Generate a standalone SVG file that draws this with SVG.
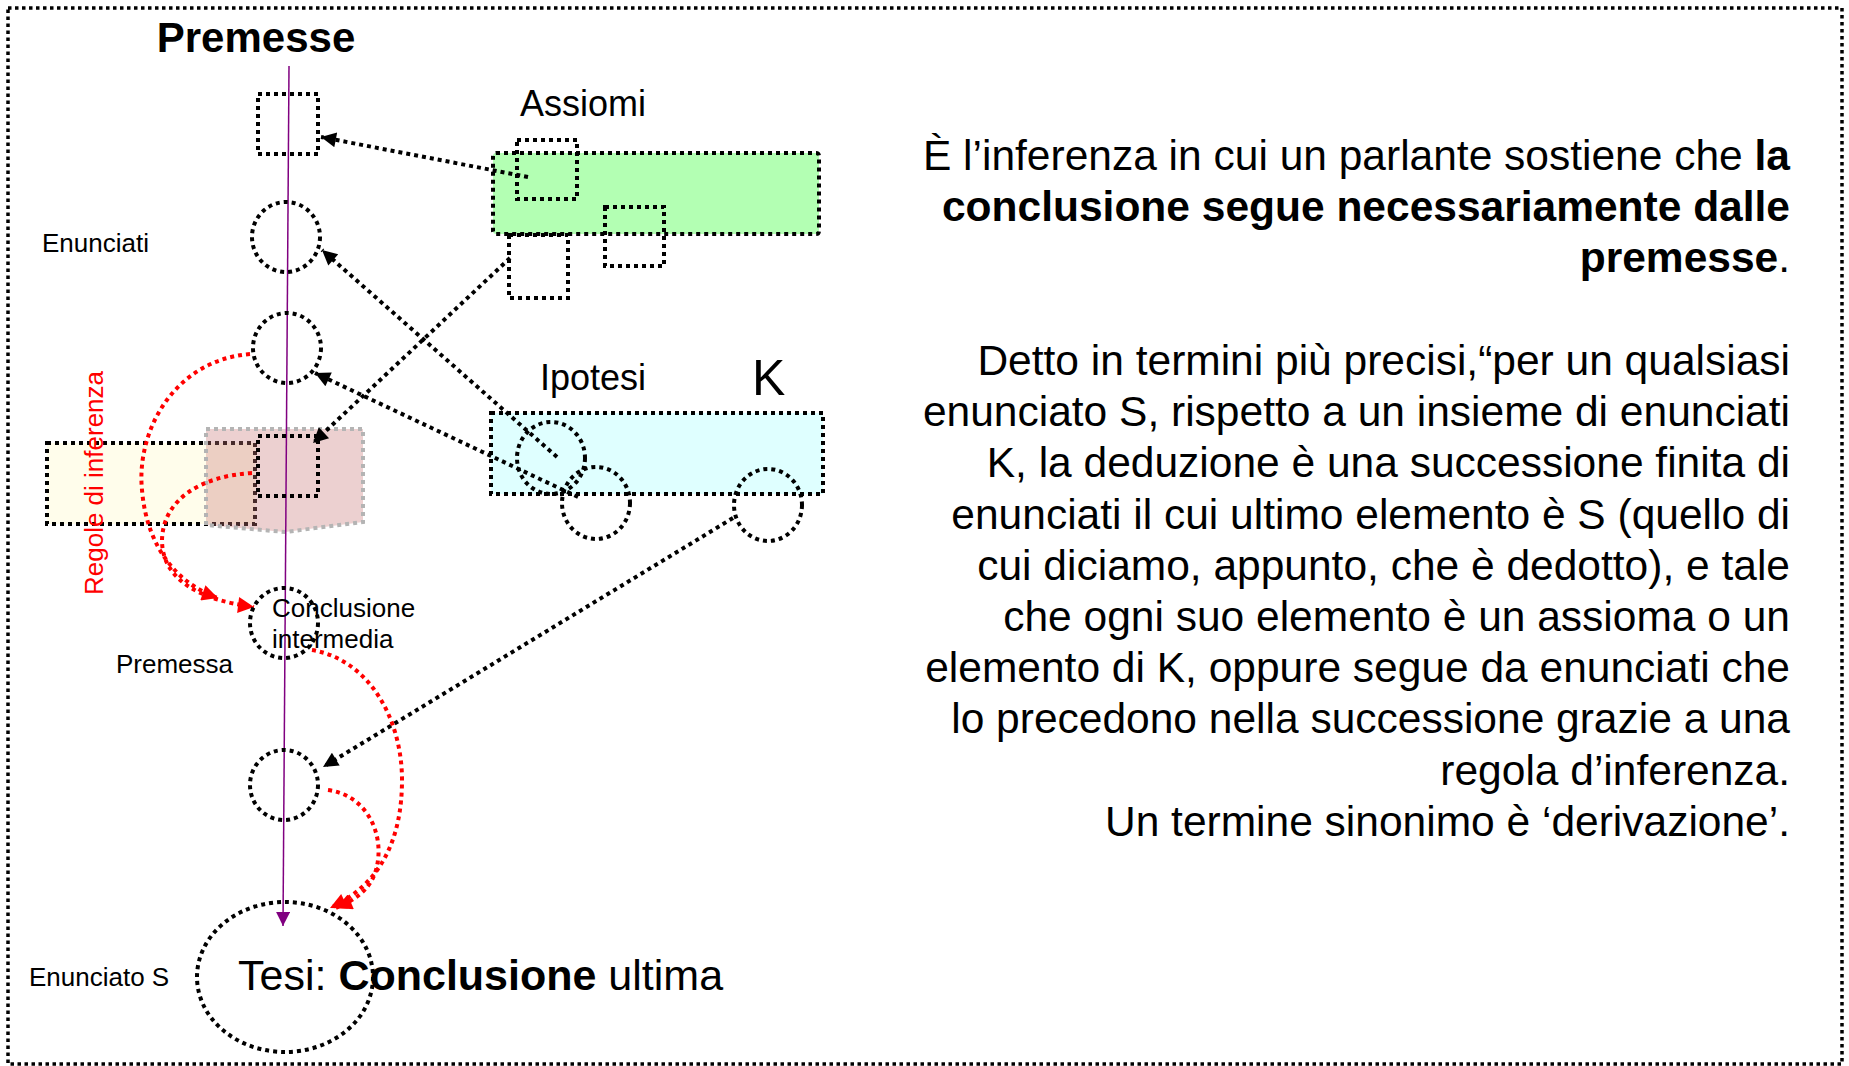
<svg xmlns="http://www.w3.org/2000/svg" width="1849" height="1066" viewBox="0 0 1849 1066">
<defs>
<style>
.dot{fill:none;stroke:#000;stroke-width:4;stroke-dasharray:4 4}
.red{fill:none;stroke:#ff0000;stroke-width:4;stroke-dasharray:4 4}
.t{font-family:"Liberation Sans",Arial,sans-serif;fill:#000}
.lbl{font-size:26px}
.big{font-size:42.5px}
.b{font-weight:bold}
</style>
<marker id="ab" viewBox="0 0 10 10" refX="10" refY="5" markerWidth="18" markerHeight="15" markerUnits="userSpaceOnUse" orient="auto"><path d="M0,0 L10,5 L0,10 z" fill="#000"/></marker>
<marker id="ar" viewBox="0 0 10 10" refX="10" refY="5" markerWidth="18" markerHeight="16" markerUnits="userSpaceOnUse" orient="auto"><path d="M0,0 L10,5 L0,10 z" fill="#ff0000"/></marker>
<marker id="ap" viewBox="0 0 10 10" refX="10" refY="5" markerWidth="15" markerHeight="14" markerUnits="userSpaceOnUse" orient="auto"><path d="M0,0 L10,5 L0,10 z" fill="#800080"/></marker>
</defs>
<rect width="1849" height="1066" fill="#fff"/>
<rect x="8" y="8" width="1834" height="1056" fill="none" stroke="#000" stroke-width="3.5" stroke-dasharray="3.5 3.5"/>

<g id="regole-box">
<rect x="47" y="443" width="208" height="81" class="dot" style="fill:#fffdeb"/>
</g>
<g id="pink-box">
<polygon points="206,429 363,429 363,522 285,532 206,525" style="fill:rgb(200,120,120);fill-opacity:0.35" stroke="#b4b4b4" stroke-width="4" stroke-dasharray="4 4"/>
</g>
<g id="assiomi-box">
<rect x="493" y="153" width="326" height="81" rx="3" class="dot" style="fill:#b3ffb3"/>
</g>
<g id="ipotesi-box">
<rect x="491" y="413" width="332" height="81" class="dot" style="fill:#dfffff"/>
</g>

<g id="connectors">
<line x1="289" y1="66" x2="283" y2="926" stroke="#800080" stroke-width="1.5" marker-end="url(#ap)"/>
<line x1="528" y1="177" x2="321" y2="137" class="dot" marker-end="url(#ab)"/>
<line x1="557" y1="457" x2="322" y2="250" class="dot" marker-end="url(#ab)"/>
<line x1="578" y1="497" x2="315" y2="373" class="dot" marker-end="url(#ab)"/>
<line x1="510" y1="258" x2="313" y2="443" class="dot" marker-end="url(#ab)"/>
<line x1="733" y1="518" x2="323" y2="767" class="dot" marker-end="url(#ab)"/>
<path d="M250 354 C175 360 136 430 142 490 C147 550 180 585 218 598" class="red" marker-end="url(#ar)"/>
<path d="M252 473 C200 476 163 500 162 540 C162 580 200 600 254 607" class="red" marker-end="url(#ar)"/>
<path d="M312 650 C370 660 402 720 402 780 C402 840 380 885 330 908" class="red" marker-end="url(#ar)"/>
<path d="M328 790 C365 795 382 830 378 860 C375 885 360 898 336 908" class="red" marker-end="url(#ar)"/>
</g>

<g id="premesse-label"><text class="t b" x="256" y="52" font-size="42" text-anchor="middle">Premesse</text></g>
<g id="square-top"><rect x="258" y="94" width="60" height="60" class="dot"/></g>
<g id="enunciato-1"><ellipse cx="286" cy="237" rx="34" ry="35" class="dot"/></g>
<g id="enunciato-2"><ellipse cx="287" cy="348" rx="34" ry="35" class="dot"/></g>
<g id="square-inner"><rect x="258" y="436" width="60" height="60" class="dot"/></g>
<g id="conclusione-intermedia"><ellipse cx="284" cy="623" rx="34" ry="35" class="dot"/>
<text class="t lbl" x="272" y="617">Conclusione</text>
<text class="t lbl" x="272" y="648">intermedia</text></g>
<g id="enunciato-4"><ellipse cx="284" cy="785" rx="34" ry="35" class="dot"/></g>
<g id="tesi"><ellipse cx="285" cy="977" rx="88" ry="75" class="dot"/>
<text class="t" x="238" y="990" font-size="43">Tesi: <tspan class="b">Conclusione</tspan> ultima</text></g>

<g id="assioma-1"><rect x="517" y="140" width="60" height="59" class="dot"/></g>
<g id="assioma-2"><rect x="605" y="207" width="59" height="59" class="dot"/></g>
<g id="assioma-3"><rect x="509" y="235" width="59" height="63" class="dot"/></g>
<g id="ipotesi-1"><ellipse cx="551" cy="458" rx="34" ry="36" class="dot"/></g>
<g id="ipotesi-2"><ellipse cx="596" cy="503" rx="34" ry="36" class="dot"/></g>
<g id="ipotesi-3"><ellipse cx="768" cy="505" rx="34" ry="36" class="dot"/></g>

<g id="labels">
<text class="t" x="520" y="116" font-size="36">Assiomi</text>
<text class="t" x="540" y="390" font-size="36">Ipotesi</text>
<text class="t" x="752" y="395" font-size="50">K</text>
<text class="t lbl" x="42" y="252">Enunciati</text>
<text class="t lbl" x="116" y="673">Premessa</text>
<text class="t lbl" x="29" y="986">Enunciato S</text>
<text class="t lbl" transform="translate(103,595) rotate(-90)" style="fill:#ff0000">Regole di inferenza</text>
</g>

<g id="definition" class="t big" text-anchor="end">
<text x="1790" y="170">È l’inferenza in cui un parlante sostiene che <tspan class="b">la</tspan></text>
<text x="1790" y="221" class="b">conclusione segue necessariamente dalle</text>
<text x="1790" y="272"><tspan class="b">premesse</tspan>.</text>
<text x="1790" y="375">Detto in termini più precisi,“per un qualsiasi</text>
<text x="1790" y="426">enunciato S, rispetto a un insieme di enunciati</text>
<text x="1790" y="477">K, la deduzione è una successione finita di</text>
<text x="1790" y="529">enunciati il cui ultimo elemento è S (quello di</text>
<text x="1790" y="580">cui diciamo, appunto, che è dedotto), e tale</text>
<text x="1790" y="631">che ogni suo elemento è un assioma o un</text>
<text x="1790" y="682">elemento di K, oppure segue da enunciati che</text>
<text x="1790" y="733">lo precedono nella successione grazie a una</text>
<text x="1790" y="785">regola d’inferenza.</text>
<text x="1790" y="836">Un termine sinonimo è ‘derivazione’.</text>
</g>
</svg>
